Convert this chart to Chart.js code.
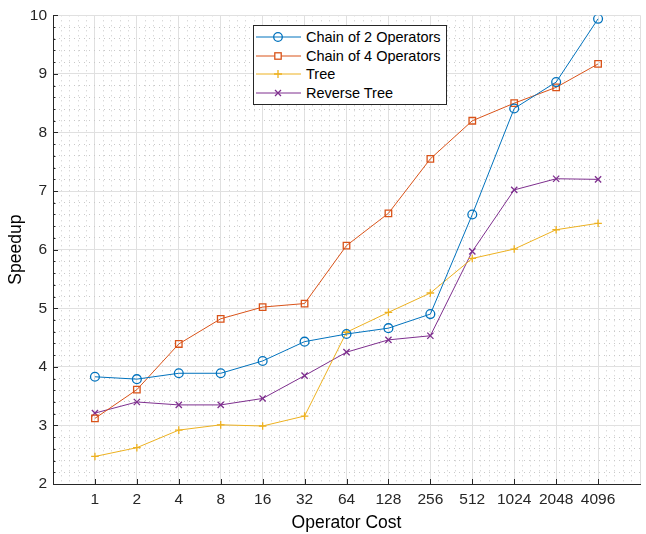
<!DOCTYPE html>
<html>
<head>
<meta charset="utf-8">
<script src="https://cdn.jsdelivr.net/npm/chart.js@4/dist/chart.umd.min.js"></script>
<style>
  body { margin: 0; background: #fff; }
  #wrap { position: relative; width: 646px; height: 534px; }
  #leyenda {
    position: absolute; left: 253px; top: 25px; width: 192px; height: 78px;
    border: 1px solid #262626; background: #fff;
    font-family: "Liberation Sans", Arial, sans-serif; font-size: 14.5px; color: #000;
  }
  .fila { position: absolute; left: 0; height: 18px; display: flex; align-items: center; }
  .fila svg { margin-left: 1px; }
  .fila span { margin-left: 4px; white-space: nowrap; }
</style>
</head>
<body>
<div id="wrap">
  <canvas id="grafico" width="646" height="534"></canvas>
  <div id="leyenda"></div>
</div>
<script>
// Datos
const categorias = ['1', '2', '4', '8', '16', '32', '64', '128', '256', '512', '1024', '2048', '4096'];
const cadena2 = [3.83, 3.79, 3.89, 3.89, 4.10, 4.43, 4.56, 4.66, 4.90, 6.60, 8.41, 8.86, 9.94];
const cadena4 = [3.12, 3.61, 4.39, 4.82, 5.02, 5.08, 6.07, 6.62, 7.55, 8.20, 8.50, 8.77, 9.17];
const arbol = [2.47, 2.62, 2.92, 3.01, 2.99, 3.16, 4.59, 4.93, 5.26, 5.85, 6.01, 6.34, 6.45];
const arbolInverso = [3.21, 3.40, 3.35, 3.35, 3.46, 3.85, 4.25, 4.46, 4.53, 5.97, 7.02, 7.21, 7.20];
const yTicks = [2, 3, 4, 5, 6, 7, 8, 9, 10];

const series = [
  { label: 'Chain of 2 Operators', data: cadena2, color: '#0072BD', estilo: 'circle', radio: 4.4 },
  { label: 'Chain of 4 Operators', data: cadena4, color: '#D95319', estilo: 'rect', radio: 4.6 },
  { label: 'Tree', data: arbol, color: '#EDB120', estilo: 'cross', radio: 3.8 },
  { label: 'Reverse Tree', data: arbolInverso, color: '#7E2F8E', estilo: 'crossRot', radio: 4.4 }
];

const FUENTE = '"Liberation Sans", Arial, sans-serif';
const esEntero = v => Math.abs(v - Math.round(v)) < 1e-6;

// Ticks hacia adentro (estilo MATLAB)
const ticksInternos = {
  id: 'ticksInternos',
  afterDraw(chart) {
    const { ctx, chartArea, scales } = chart;
    ctx.save();
    ctx.strokeStyle = '#262626';
    ctx.lineWidth = 1;
    ctx.beginPath();
    scales.x.ticks.forEach(t => {
      if (esEntero(t.value) && t.value >= 1 && t.value <= categorias.length) {
        const px = Math.round(scales.x.getPixelForValue(t.value)) + 0.5;
        ctx.moveTo(px, chartArea.bottom);
        ctx.lineTo(px, chartArea.bottom - 5);
      }
    });
    scales.y.ticks.forEach(t => {
      const py = Math.round(scales.y.getPixelForValue(t.value)) + 0.5;
      const largo = esEntero(t.value) ? 5 : 2.5;
      ctx.moveTo(chartArea.left, py);
      ctx.lineTo(chartArea.left + largo, py);
    });
    ctx.stroke();
    ctx.restore();
  }
};

const ctx = document.getElementById('grafico').getContext('2d');
new Chart(ctx, {
  type: 'line',
  data: {
    datasets: series.map(s => ({
      label: s.label,
      data: s.data.map((v, i) => ({ x: i + 1, y: v })),
      borderColor: s.color,
      backgroundColor: 'transparent',
      borderWidth: 1,
      pointStyle: s.estilo,
      pointRadius: s.radio,
      pointBorderColor: s.color,
      pointBackgroundColor: 'transparent',
      pointBorderWidth: 1.3,
      tension: 0
    }))
  },
  options: {
    responsive: false,
    animation: false,
    layout: { padding: { top: 15, right: 0, left: 0, bottom: 0 } },
    plugins: {
      legend: { display: false },
      tooltip: { enabled: false }
    },
    scales: {
      x: {
        type: 'linear',
        min: 0,
        max: categorias.length + 1,
        afterBuildTicks: scale => {
          const t = [];
          for (let i = 0; i <= (categorias.length + 1) * 5; i++) t.push({ value: i / 5 });
          scale.ticks = t;
        },
        afterFit: scale => { scale.height = 50; },
        ticks: {
          autoSkip: false,
          maxRotation: 0,
          padding: 6,
          color: '#262626',
          font: { family: FUENTE, size: 15.5 },
          callback: v => (esEntero(v) && v >= 1 && v <= categorias.length) ? categorias[Math.round(v) - 1] : ''
        },
        grid: {
          drawTicks: false,
          color: c => {
            const v = c.tick ? c.tick.value : 0;
            if (v === 0) return 'transparent';
            return esEntero(v) ? '#e0e0e0' : '#c9c9c9';
          },
          lineWidth: 1
        },
        border: {
          display: true, color: '#262626', width: 1,
          dash: c => (c.tick && !esEntero(c.tick.value)) ? [1, 4] : []
        },
        title: {
          display: true, text: 'Operator Cost', color: '#000',
          font: { family: FUENTE, size: 17.5 },
          padding: { top: 0, bottom: 0 }
        }
      },
      y: {
        min: yTicks[0],
        max: yTicks[yTicks.length - 1],
        afterBuildTicks: scale => {
          const t = [];
          for (let v = yTicks[0] * 5; v <= yTicks[yTicks.length - 1] * 5; v++) t.push({ value: v / 5 });
          scale.ticks = t;
        },
        afterFit: scale => { scale.width = 53; },
        ticks: {
          autoSkip: false,
          padding: 6,
          color: '#262626',
          font: { family: FUENTE, size: 15.5 },
          callback: v => (esEntero(v) && yTicks.includes(Math.round(v))) ? String(Math.round(v)) : ''
        },
        grid: {
          drawTicks: false,
          color: c => {
            const v = c.tick ? c.tick.value : 0;
            return esEntero(v) ? '#e0e0e0' : '#c9c9c9';
          },
          lineWidth: 1
        },
        border: {
          display: true, color: '#262626', width: 1,
          dash: c => (c.tick && !esEntero(c.tick.value)) ? [1, 4] : []
        },
        title: {
          display: true, text: 'Speedup', color: '#000',
          font: { family: FUENTE, size: 17.5 },
          padding: { top: 6, bottom: 6 }
        }
      }
    }
  },
  plugins: [ticksInternos]
});

// Leyenda HTML con muestra de línea y marcador
function marcadorSVG(s) {
  const cx = 23, cy = 9;
  let m = '';
  if (s.estilo === 'circle') m = `<circle cx="${cx}" cy="${cy}" r="4.3" fill="none" stroke="${s.color}" stroke-width="1.3"/>`;
  if (s.estilo === 'rect') m = `<rect x="${cx - 3.2}" y="${cy - 3.2}" width="6.4" height="6.4" fill="#fff" stroke="${s.color}" stroke-width="1.3"/>`;
  if (s.estilo === 'cross') m = `<path d="M${cx - 4} ${cy}H${cx + 4}M${cx} ${cy - 4}V${cy + 4}" stroke="${s.color}" stroke-width="1.3"/>`;
  if (s.estilo === 'crossRot') m = `<path d="M${cx - 3} ${cy - 3}L${cx + 3} ${cy + 3}M${cx - 3} ${cy + 3}L${cx + 3} ${cy - 3}" stroke="${s.color}" stroke-width="1.3"/>`;
  return `<svg width="47" height="18"><line x1="1" y1="${cy}" x2="46" y2="${cy}" stroke="${s.color}" stroke-width="1"/>${m}</svg>`;
}
const leyenda = document.getElementById('leyenda');
series.forEach((s, i) => {
  const fila = document.createElement('div');
  fila.className = 'fila';
  fila.style.top = (2 + i * 18.7) + 'px';
  fila.innerHTML = marcadorSVG(s) + `<span>${s.label}</span>`;
  leyenda.appendChild(fila);
});
</script>
</body>
</html>
